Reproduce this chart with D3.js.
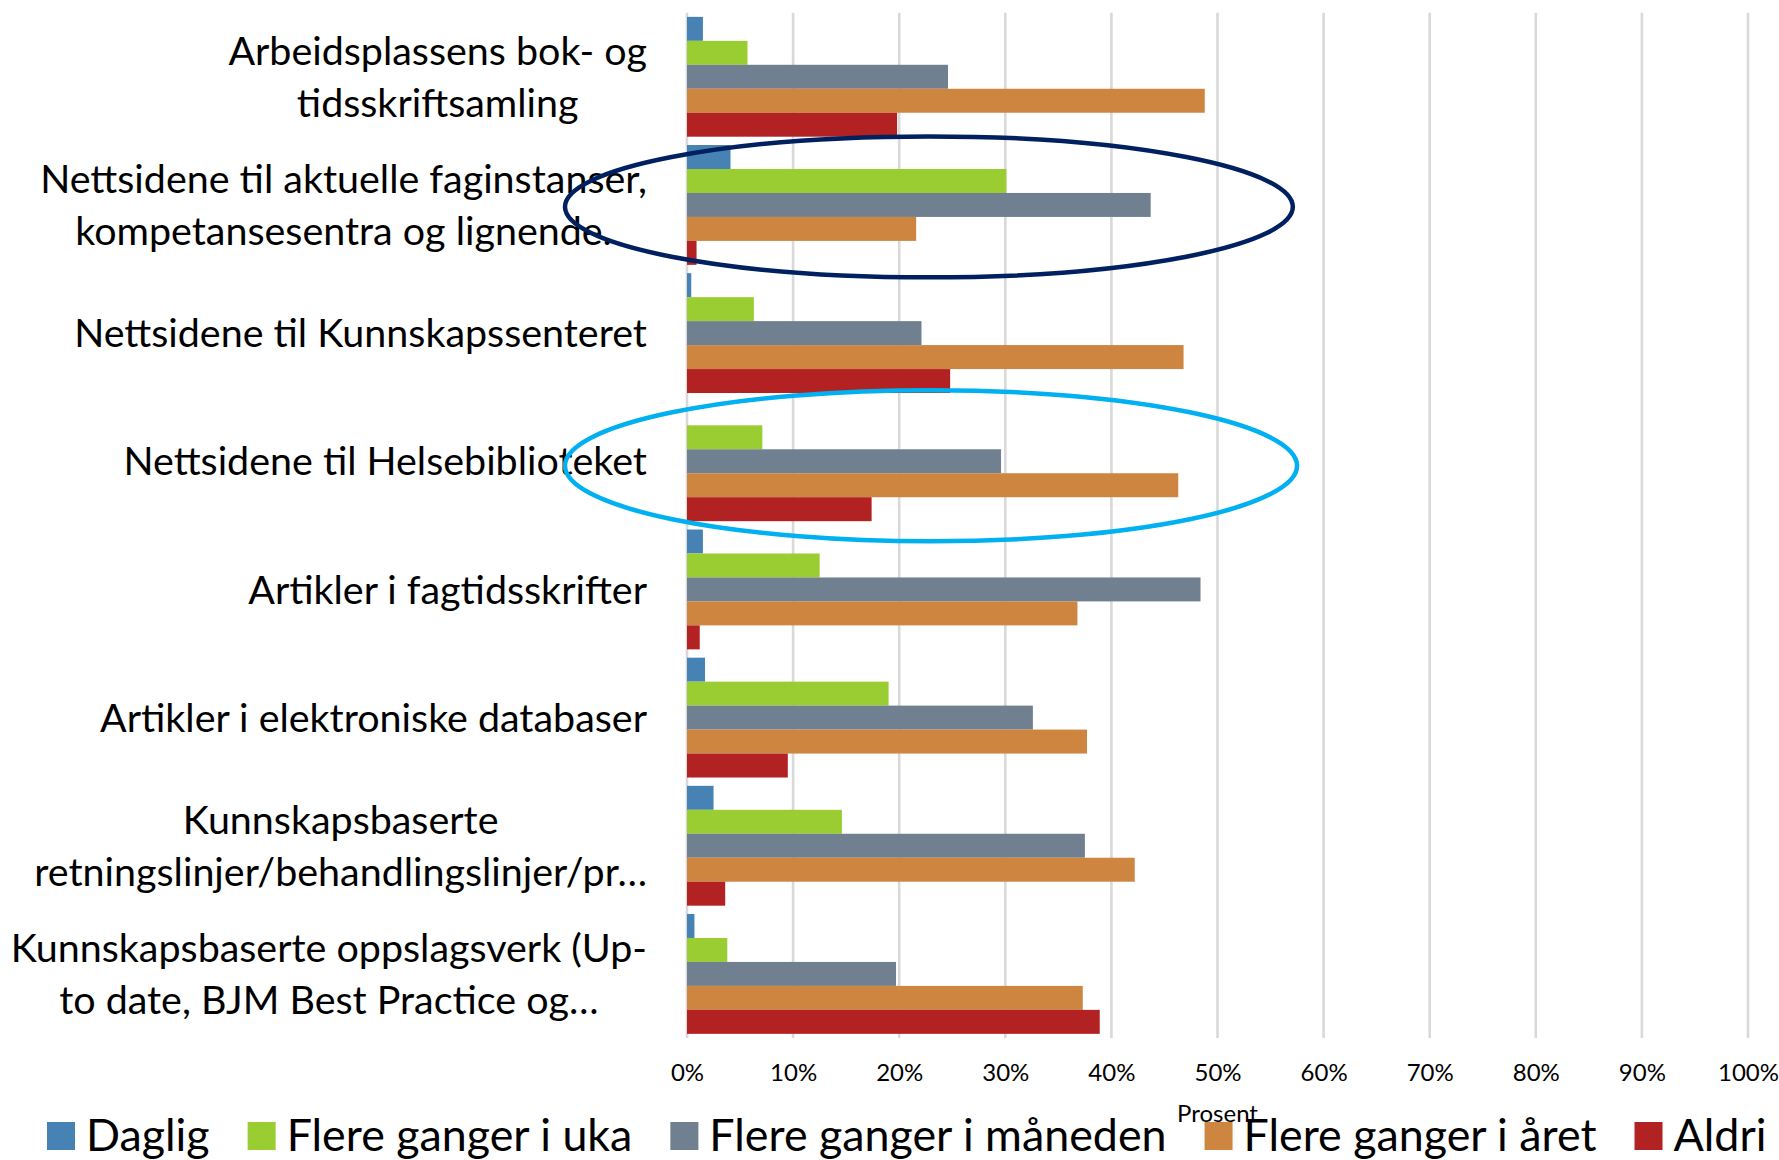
<!DOCTYPE html>
<html>
<head>
<meta charset="utf-8">
<script src="https://cdn.jsdelivr.net/npm/d3@7"></script>
<style>
  body { margin: 0; background: #fff; }
  svg { display: block; font-family: Lato, "Open Sans", sans-serif; }
</style>
</head>
<body>
<svg id="chart" width="1779" height="1160"></svg>
<script>
/// DATA ///
var categoryLines = [
  ["Arbeidsplassens bok- og", "tidsskriftsamling"],
  ["Nettsidene til aktuelle faginstanser,", "kompetansesentra og lignende."],
  ["Nettsidene til Kunnskapssenteret"],
  ["Nettsidene til Helsebiblioteket"],
  ["Artikler i fagtidsskrifter"],
  ["Artikler i elektroniske databaser"],
  ["Kunnskapsbaserte", "retningslinjer/behandlingslinjer/pr…"],
  ["Kunnskapsbaserte oppslagsverk (Up-", "to date, BJM Best Practice og…"]
];
var categories = categoryLines.map(function (d) { return d.join(" "); });

var seriesNames = ["Daglig", "Flere ganger i uka", "Flere ganger i måneden", "Flere ganger i året", "Aldri"];
var daglig       = [1.5, 4.1, 0.4, 0, 1.5, 1.7, 2.5, 0.7];
var flereUka     = [5.7, 30.1, 6.3, 7.1, 12.5, 19.0, 14.6, 3.8];
var flereManeden = [24.6, 43.7, 22.1, 29.6, 48.4, 32.6, 37.5, 19.7];
var flereAret    = [48.8, 21.6, 46.8, 46.3, 36.8, 37.7, 42.2, 37.3];
var aldri        = [19.8, 0.9, 24.8, 17.4, 1.2, 9.5, 3.6, 38.9];
var seriesValues = [daglig, flereUka, flereManeden, flereAret, aldri];

var tickValues = [0, 10, 20, 30, 40, 50, 60, 70, 80, 90, 100];
var axisTitle = "Prosent";

// hand drawn highlight rings (category index, centre / radius in % units, height as share of a group)
var highlights = [
  { category: 1, cx: 22.8, rx: 34.3, ry: 0.55, dy: 0.015, color: "#002060" },
  { category: 3, cx: 23.0, rx: 34.5, ry: 0.59, dy: 0.035, color: "#00B0F0" }
];

/// SETUP ///
var COLOR = ["#4682B4", "#9ACD32", "#708090", "#CD853F", "#B22222"];
var svg = d3.select("#chart");

var x = d3.scaleLinear().domain([0, 100]).range([687, 1748]);
var y = d3.scaleBand().domain(categories).range([12.7, 1038]).paddingInner(0.065).paddingOuter(0.0325);
var ySub = d3.scaleBand().domain(seriesNames).range([0, y.bandwidth()]);

// HELPER FUNCTION: width of a string at a given size
function textWidth(str, size) {
  var t = svg.append("text").style("font-size", size + "px").text(str);
  var w = t.node().getComputedTextLength();
  t.remove();
  return w;
}

// gridlines
svg.append("g")
  .attr("class", "grid")
  .selectAll("line")
  .data(tickValues)
  .enter()
  .append("line")
  .attr("x1", function (d) { return x(d); })
  .attr("x2", function (d) { return x(d); })
  .attr("y1", y.range()[0])
  .attr("y2", y.range()[1])
  .attr("stroke", "#D9D9D9")
  .attr("stroke-width", 2.6);

// x axis tick labels
var xAxis = d3.axisBottom(x)
  .tickValues(tickValues)
  .tickSize(0)
  .tickPadding(0)
  .tickFormat(function (d) { return d + "%"; });

svg.append("g")
  .attr("transform", "translate(0,1060)")
  .call(xAxis)
  .call(function (g) { g.select(".domain").remove(); })
  .selectAll("text")
  .attr("dy", 0)
  .attr("y", 21)
  .style("font-family", "Lato, sans-serif")
  .style("font-size", "24px")
  .attr("fill", "#000");

svg.append("text")
  .attr("x", x(50))
  .attr("y", 1122)
  .attr("text-anchor", "middle")
  .style("font-size", "24px")
  .text(axisTitle);

// bars
var groups = svg.append("g")
  .attr("class", "bars")
  .selectAll("g")
  .data(categories)
  .enter()
  .append("g")
  .attr("transform", function (d) { return "translate(0," + y(d) + ")"; });

groups.selectAll("rect")
  .data(function (d, i) {
    return seriesNames.map(function (s, j) {
      return { series: s, value: seriesValues[j][i], color: COLOR[j] };
    });
  })
  .enter()
  .append("rect")
  .attr("x", x(0))
  .attr("y", function (d) { return ySub(d.series); })
  .attr("width", function (d) { return x(d.value) - x(0); })
  .attr("height", ySub.bandwidth())
  .attr("fill", function (d) { return d.color; });

// category labels, fitted to the reference width
var labelSize = 36 * 573 / textWidth("Nettsidene til Kunnskapssenteret", 36);
var lineHeight = 51.5;
var labelRight = 647;

categoryLines.forEach(function (lines, i) {
  var maxW = d3.max(lines, function (l) { return textWidth(l, labelSize); });
  var cx = labelRight - maxW / 2;
  var cy = y(categories[i]) + y.bandwidth() / 2;
  lines.forEach(function (l, k) {
    var off = (k - (lines.length - 1) / 2) * lineHeight;
    svg.append("text")
      .attr("x", cx)
      .attr("y", cy + off + labelSize * 0.36)
      .attr("text-anchor", "middle")
      .style("font-size", labelSize + "px")
      .attr("fill", "#000")
      .text(l);
  });
});

// highlight ellipses
svg.append("g")
  .attr("class", "highlights")
  .selectAll("ellipse")
  .data(highlights)
  .enter()
  .append("ellipse")
  .attr("cx", function (d) { return x(d.cx); })
  .attr("cy", function (d) { return y(categories[d.category]) + y.bandwidth() / 2 + d.dy * y.step(); })
  .attr("rx", function (d) { return x(d.rx) - x(0); })
  .attr("ry", function (d) { return d.ry * y.step(); })
  .attr("fill", "none")
  .attr("stroke", function (d) { return d.color; })
  .attr("stroke-width", 4.5);

// legend
var swatch = 28, swatchGap = 11, itemGap = 38, legendLeft = 47, legendRight = 1767;
var baseSize = 40;
var baseTotal = d3.sum(seriesNames, function (s) { return textWidth(s, baseSize); });
var legendSize = baseSize * (legendRight - legendLeft - seriesNames.length * (swatch + swatchGap) - (seriesNames.length - 1) * itemGap) / baseTotal;

var lx = legendLeft;
var legend = svg.append("g").attr("class", "legend");
seriesNames.forEach(function (s, j) {
  legend.append("rect")
    .attr("x", lx)
    .attr("y", 1122)
    .attr("width", swatch)
    .attr("height", swatch)
    .attr("fill", COLOR[j]);
  legend.append("text")
    .attr("x", lx + swatch + swatchGap)
    .attr("y", 1151)
    .style("font-size", legendSize + "px")
    .attr("fill", "#000")
    .text(s);
  lx += swatch + swatchGap + textWidth(s, legendSize) + itemGap;
});
</script>
</body>
</html>
